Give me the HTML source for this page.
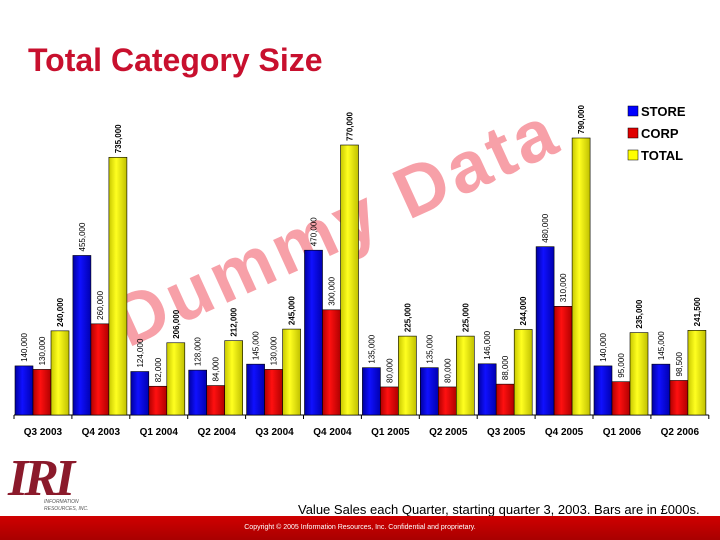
<!DOCTYPE html>
<html><head><meta charset="utf-8">
<style>
body{margin:0;width:720px;height:540px;overflow:hidden;background:#fff;font-family:"Liberation Sans",sans-serif;position:relative}
#title{position:absolute;left:28px;top:42px;font-size:32px;font-weight:bold;color:#c8102e}
#footer{position:absolute;left:0;top:516px;width:720px;height:24px;background:linear-gradient(#d00000,#a80000);color:#fff;font-size:7px;text-align:center;line-height:24px}
#caption{position:absolute;left:298px;top:502px;font-size:13px;color:#000}
svg{position:absolute;left:0;top:0}
</style></head><body>
<div id="title">Total Category Size</div>
<svg width="720" height="540" id="chart">
<defs>
<linearGradient id="gb" x1="0" x2="1"><stop offset="0" stop-color="#0000a0"/><stop offset="0.4" stop-color="#1010ff"/><stop offset="1" stop-color="#0000b0"/></linearGradient>
<linearGradient id="gr" x1="0" x2="1"><stop offset="0" stop-color="#b00000"/><stop offset="0.4" stop-color="#ff1010"/><stop offset="1" stop-color="#b00000"/></linearGradient>
<linearGradient id="gy" x1="0" x2="1"><stop offset="0" stop-color="#c8c800"/><stop offset="0.4" stop-color="#ffff20"/><stop offset="1" stop-color="#c0c000"/></linearGradient>
</defs>
<text x="0" y="0" transform="translate(128,348) rotate(-24.5)" font-size="72" font-weight="bold" fill="#f7a0a8" font-family="Liberation Sans,sans-serif" letter-spacing="4">Dummy Data</text>
<g id="bars"></g>
<g id="legend">
<rect x="628" y="106" width="10" height="10" fill="#0000ff" stroke="#000" stroke-width="0.5"/><text x="641" y="116" font-size="13" font-weight="bold">STORE</text>
<rect x="628" y="128" width="10" height="10" fill="#e00000" stroke="#000" stroke-width="0.5"/><text x="641" y="138" font-size="13" font-weight="bold">CORP</text>
<rect x="628" y="150" width="10" height="10" fill="#ffff00" stroke="#000" stroke-width="0.5"/><text x="641" y="160" font-size="13" font-weight="bold">TOTAL</text>
</g>
<g>
<text x="8" y="495" font-size="52" font-weight="bold" font-style="italic" fill="#8b1a2b" font-family="Liberation Serif,serif" letter-spacing="-4">IRI</text>
<text x="44" y="503" font-size="5" font-style="italic" fill="#555">INFORMATION</text>
<text x="44" y="510" font-size="5" font-style="italic" fill="#555">RESOURCES, INC.</text>
</g>
</svg>
<div id="caption">Value Sales each Quarter, starting quarter 3, 2003. Bars are in £000s.</div>
<div id="footer">Copyright © 2005 Information Resources, Inc. Confidential and proprietary.</div>
<script>
const categories=["Q3 2003","Q4 2003","Q1 2004","Q2 2004","Q3 2004","Q4 2004","Q1 2005","Q2 2005","Q3 2005","Q4 2005","Q1 2006","Q2 2006"];
const store=[140000,455000,124000,128000,145000,470000,135000,135000,146000,480000,140000,145000];
const corp=[130000,260000,82000,84000,130000,300000,80000,80000,88000,310000,95000,98500];
const total=[240000,735000,206000,212000,245000,770000,225000,225000,244000,790000,235000,241500];
const NS="http://www.w3.org/2000/svg";
const base=415, scale=277/790000, x0=14, gw=57.9, bw=18;
const y=v=>base-v*scale;
const g=document.getElementById('bars');
function mk(t,a){const e=document.createElementNS(NS,t);for(const k in a)e.setAttribute(k,a[k]);g.appendChild(e);return e;}
const ax=mk('line',{x1:x0,x2:x0+gw*12,y1:base,y2:base,stroke:'#000','stroke-width':1});


const series=[[store,'url(#gb)','store',false],[corp,'url(#gr)','corp',false],[total,'url(#gy)','total',true]];
categories.forEach((c,i)=>{
  const gx=x0+i*gw;
  const tk=mk('line',{x1:gx,x2:gx,y1:base,y2:base+4,stroke:'#000'});
  
  
  series.forEach((s,j)=>{
    const v=s[0][i],bx=gx+1+j*bw;
    const r=mk('rect',{x:bx,y:y(v),width:bw,height:base-y(v),fill:s[1],stroke:'#000','stroke-width':0.6});
    
    
    const tx=bx+bw/2+3,ty=y(v)-4;
    const t=mk('text',{x:0,y:0,transform:`translate(${tx},${ty}) rotate(-90)`,'font-size':8,'font-weight':s[3]?'bold':'normal'});
    t.textContent=v.toLocaleString('en-US');
    
    
  });
  const l=mk('text',{x:gx+gw/2,y:435,'text-anchor':'middle','font-size':10,'font-weight':'bold'});
  l.textContent=c;
  
  
});
const et=mk('line',{x1:x0+gw*12,x2:x0+gw*12,y1:base,y2:base+4,stroke:'#000'});


</script>
</body></html>
